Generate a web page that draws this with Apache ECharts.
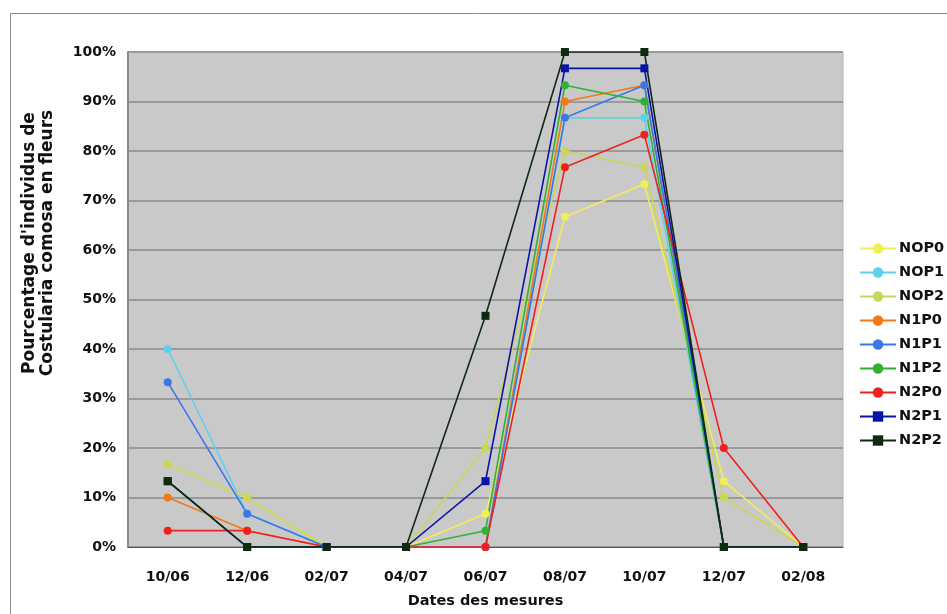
<!DOCTYPE html>
<html>
<head>
<meta charset="utf-8">
<script src="https://cdn.jsdelivr.net/npm/echarts@6/dist/echarts.min.js"></script>
<style>
  html, body { margin: 0; padding: 0; background: #fff; }
  #chart { width: 947px; height: 614px; }
</style>
</head>
<body>
<div id="chart"></div>
<script>
// dates de mesure
const dates = ['10/06', '12/06', '02/07', '04/07', '06/07', '08/07', '10/07', '12/07', '02/08'];

// % d'individus en fleurs par traitement
const NOP0 = [16.7, 10, 0, 0, 6.7, 66.7, 73.3, 13.3, 0];
const NOP1 = [40, 6.7, 0, 0, 0, 86.7, 86.7, 0, 0];
const NOP2 = [16.7, 10, 0, 0, 20, 80, 76.7, 10, 0];
const N1P0 = [10, 3.3, 0, 0, 0, 90, 93.3, 0, 0];
const N1P1 = [33.3, 6.7, 0, 0, 0, 86.7, 93.3, 0, 0];
const N1P2 = [13.3, 0, 0, 0, 3.3, 93.3, 90, 0, 0];
const N2P0 = [3.3, 3.3, 0, 0, 0, 76.7, 83.3, 20, 0];
const N2P1 = [13.3, 0, 0, 0, 13.3, 96.7, 96.7, 0, 0];
const N2P2 = [13.3, 0, 0, 0, 46.7, 100, 100, 0, 0];

const yTicks = [0, 10, 20, 30, 40, 50, 60, 70, 80, 90, 100];

const yTitle = "Pourcentage d'individus de\nCostularia comosa en fleurs";
const xTitle = 'Dates des mesures';

const seriesList = [
  { name: 'NOP0', data: NOP0, color: '#f2ee55', symbol: 'circle' },
  { name: 'NOP1', data: NOP1, color: '#5fd0ea', symbol: 'circle' },
  { name: 'NOP2', data: NOP2, color: '#c8d65a', symbol: 'circle' },
  { name: 'N1P0', data: N1P0, color: '#f07a18', symbol: 'circle' },
  { name: 'N1P1', data: N1P1, color: '#3a78e8', symbol: 'circle' },
  { name: 'N1P2', data: N1P2, color: '#2fb234', symbol: 'circle' },
  { name: 'N2P0', data: N2P0, color: '#f02020', symbol: 'circle' },
  { name: 'N2P1', data: N2P1, color: '#0a13a8', symbol: 'rect' },
  { name: 'N2P2', data: N2P2, color: '#0f2a10', symbol: 'rect' }
];

const font = '"DejaVu Sans", sans-serif';

const chart = echarts.init(document.getElementById('chart'));

const option = {
  animation: false,
  backgroundColor: '#ffffff',
  graphic: [{
    type: 'rect',
    shape: { x: 10.5, y: 13.5, width: 960, height: 640 },
    style: { fill: 'none', stroke: '#8a8a8a', lineWidth: 1 },
    z: -1
  }, {
    // titre de l'axe Y, un peu au-dessus du centre comme dans l'original
    type: 'text',
    x: 39,
    y: 243,
    rotation: Math.PI / 2,
    style: {
      text: yTitle,
      font: 'bold 17px "DejaVu Sans", sans-serif',
      lineHeight: 18,
      fill: '#111',
      align: 'center',
      verticalAlign: 'middle'
    }
  }],
  grid: {
    left: 128, top: 52, right: 104, bottom: 67,
    show: true,
    backgroundColor: '#c9c9c9',
    borderColor: '#b5b5b5',
    borderWidth: 1
  },
  legend: {
    orient: 'vertical',
    left: 854,
    top: 236,
    itemWidth: 36,
    itemHeight: 13,
    itemGap: 9,
    textStyle: { fontFamily: font, fontSize: 14.5, fontWeight: 'bold', color: '#111', padding: [0, 0, 0, -2] },
    data: seriesList.map(s => s.name)
  },
  xAxis: {
    type: 'category',
    data: dates,
    boundaryGap: true,
    name: xTitle,
    nameLocation: 'middle',
    nameGap: 47,
    nameTextStyle: { fontFamily: font, fontSize: 14.5, fontWeight: 'bold', color: '#111' },
    axisLine: { show: true, lineStyle: { color: '#555', width: 1 } },
    axisTick: { show: false },
    axisLabel: { fontFamily: font, fontSize: 14, fontWeight: 'bold', color: '#111', margin: 23 }
  },
  yAxis: {
    type: 'value',
    min: yTicks[0],
    max: yTicks[yTicks.length - 1],
    interval: 10,
    axisLine: { show: true, lineStyle: { color: '#8a8a8a', width: 2 } },
    axisTick: { show: false },
    axisLabel: { fontFamily: font, fontSize: 14, fontWeight: 'bold', color: '#111', margin: 12, formatter: '{value}%' },
    splitLine: { show: true, lineStyle: { color: '#9a9a9a', width: 2 } }
  },
  series: seriesList.map(s => ({
    name: s.name,
    type: 'line',
    data: s.data,
    symbol: s.symbol,
    symbolSize: 8,
    color: s.color,
    lineStyle: { width: 1.6, color: s.color },
    itemStyle: { color: s.color }
  }))
};

chart.setOption(option);
</script>
</body>
</html>
